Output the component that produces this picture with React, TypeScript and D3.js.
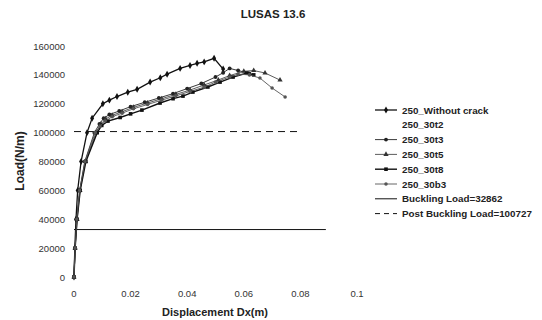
import { useEffect, useRef } from "react";
import * as d3 from "d3";

type Pt = [number, number];

// Load–displacement curves
const withoutCrack: Pt[] = [
  [0, 0], [0.0003, 20000], [0.0007, 40000], [0.0013, 60000], [0.0025, 80000],
  [0.0046, 100000], [0.0064, 110000], [0.0102, 120000], [0.0125, 122500],
  [0.0152, 125000], [0.019, 128000], [0.0223, 130000], [0.0269, 135000],
  [0.0305, 138000], [0.0329, 140500], [0.0375, 144500], [0.041, 146500],
  [0.0435, 148000], [0.046, 149000], [0.0495, 151500], [0.0527, 144000],
];
const t3: Pt[] = [
  [0, 0], [0.0004, 20000], [0.001, 40000], [0.002, 60000], [0.0038, 80000],
  [0.0072, 100000], [0.009, 106000], [0.0105, 110000], [0.0125, 112500],
  [0.016, 115000], [0.02, 118000], [0.025, 121000], [0.03, 124000],
  [0.035, 127000], [0.04, 130500], [0.045, 134000], [0.05, 138500],
  [0.0527, 141500], [0.055, 144500], [0.058, 143000], [0.062, 141000],
];
const t5: Pt[] = [
  [0, 0], [0.0004, 20000], [0.0011, 40000], [0.0021, 60000], [0.004, 80000],
  [0.0078, 100000], [0.0095, 106000], [0.0112, 109500], [0.0135, 112000],
  [0.017, 114500], [0.021, 117500], [0.026, 120500], [0.031, 123500],
  [0.036, 126500], [0.041, 129500], [0.046, 133000], [0.051, 136500],
  [0.055, 139500], [0.06, 142500], [0.0635, 143000], [0.0675, 141300],
  [0.0728, 136400],
];
const t8: Pt[] = [
  [0, 0], [0.0004, 20000], [0.0011, 40000], [0.0022, 60000], [0.0042, 80000],
  [0.0082, 100000], [0.0098, 105000], [0.012, 108000], [0.0163, 110500],
  [0.02, 113000], [0.024, 115600], [0.0304, 120500], [0.035, 123500],
  [0.0385, 125300], [0.042, 128100], [0.0473, 131600], [0.0516, 135000],
  [0.0562, 138500], [0.0611, 141300], [0.0635, 140000],
];
const b3: Pt[] = [
  [0, 0], [0.0004, 20000], [0.001, 40000], [0.002, 60000], [0.0039, 80000],
  [0.0075, 100000], [0.0092, 104500], [0.011, 108000], [0.0135, 111000],
  [0.017, 113500], [0.021, 116500], [0.026, 119500], [0.031, 122500],
  [0.036, 125500], [0.041, 128500], [0.046, 131500], [0.05, 135000],
  [0.055, 138500], [0.058, 140500], [0.062, 140000], [0.0657, 137800],
  [0.07, 130900], [0.0746, 124700],
];

const bucklingLoad = 32862;
const postBucklingLoad = 100727;
const bucklingSpan = [0, 0.089];
const postBucklingSpan = [0, 0.08];

const xTicks = [0, 0.02, 0.04, 0.06, 0.08, 0.1];
const xTickLabels = ["0", "0.02", "0.04", "0.06", "0.08", "0.1"];
const yTicks = [0, 20000, 40000, 60000, 80000, 100000, 120000, 140000, 160000];

const legendLabels = [
  "250_Without crack",
  "250_30t2",
  "250_30t3",
  "250_30t5",
  "250_30t8",
  "250_30b3",
  "Buckling Load=32862",
  "Post Buckling Load=100727",
];

interface Series {
  data: Pt[] | null;
  color: string;
  width: number;
  marker: "diamond" | "circle" | "triangle" | "square" | "none";
  size: number;
  dash?: string;
}

const series: Series[] = [
  { data: withoutCrack, color: "#111", width: 1.3, marker: "diamond", size: 14 },
  { data: null, color: "none", width: 0, marker: "none", size: 0 },
  { data: t3, color: "#222", width: 0.9, marker: "circle", size: 12 },
  { data: t5, color: "#333", width: 0.8, marker: "triangle", size: 12 },
  { data: t8, color: "#111", width: 1.4, marker: "square", size: 13 },
  { data: b3, color: "#555", width: 0.9, marker: "circle", size: 10 },
];

const symbolFor = (m: Series["marker"]) =>
  m === "diamond" ? d3.symbolDiamond
    : m === "triangle" ? d3.symbolTriangle
    : m === "square" ? d3.symbolSquare
    : d3.symbolCircle;

export default function App() {
  const svgRef = useRef<SVGSVGElement>(null);

  useEffect(() => {
    if (!svgRef.current) return;
    const svg = d3.select(svgRef.current);
    svg.selectAll("*").remove();

    const font = "Arial, 'Liberation Sans', sans-serif";

    const x = d3.scaleLinear().domain([0, 0.1]).range([74, 357]);
    const y = d3.scaleLinear().domain([0, 160000]).range([277, 46]);

    // Title
    svg.append("text")
      .attr("x", 273).attr("y", 18)
      .attr("text-anchor", "middle")
      .attr("font-family", font).attr("font-weight", "bold").attr("font-size", 11.5)
      .attr("fill", "#222")
      .text("LUSAS 13.6");

    // Y tick labels
    svg.append("g").selectAll("text")
      .data(yTicks)
      .join("text")
      .attr("x", 65)
      .attr("y", (d) => y(d) + 3.5)
      .attr("text-anchor", "end")
      .attr("font-family", font).attr("font-size", 9.5)
      .attr("fill", "#333")
      .text((d) => String(d));

    // X tick labels
    svg.append("g").selectAll("text")
      .data(xTicks)
      .join("text")
      .attr("x", (d) => x(d))
      .attr("y", 297)
      .attr("text-anchor", "middle")
      .attr("font-family", font).attr("font-size", 9.5)
      .attr("fill", "#333")
      .text((d, i) => xTickLabels[i]);

    // Axis titles
    svg.append("text")
      .attr("x", 215).attr("y", 316)
      .attr("text-anchor", "middle")
      .attr("font-family", font).attr("font-weight", "bold").attr("font-size", 11)
      .attr("fill", "#222")
      .text("Displacement Dx(m)");

    svg.append("text")
      .attr("transform", "translate(24,161) rotate(-90)")
      .attr("text-anchor", "middle")
      .attr("font-family", font).attr("font-weight", "bold").attr("font-size", 12)
      .attr("fill", "#222")
      .text("Load(N/m)");

    // Reference lines
    svg.append("line")
      .attr("x1", x(bucklingSpan[0])).attr("x2", x(bucklingSpan[1]))
      .attr("y1", y(bucklingLoad)).attr("y2", y(bucklingLoad))
      .attr("stroke", "#111").attr("stroke-width", 1);

    svg.append("line")
      .attr("x1", x(postBucklingSpan[0])).attr("x2", x(postBucklingSpan[1]))
      .attr("y1", y(postBucklingLoad)).attr("y2", y(postBucklingLoad))
      .attr("stroke", "#111").attr("stroke-width", 1)
      .attr("stroke-dasharray", "7,5");

    const line = d3.line<Pt>().x((d) => x(d[0])).y((d) => y(d[1]));

    series.forEach((s) => {
      if (!s.data) return;
      svg.append("path")
        .datum(s.data)
        .attr("fill", "none")
        .attr("stroke", s.color)
        .attr("stroke-width", s.width)
        .attr("d", line);

      const sym = d3.symbol().type(symbolFor(s.marker)).size(s.size);
      svg.append("g").selectAll("path")
        .data(s.data)
        .join("path")
        .attr("transform", (d) => `translate(${x(d[0])},${y(d[1])})`)
        .attr("d", sym)
        .attr("fill", s.color);
    });

    // Legend
    const lg = svg.append("g");
    legendLabels.forEach((label, i) => {
      const yy = 110 + i * 14.8;
      if (i < series.length) {
        const s = series[i];
        if (s.data) {
          lg.append("line")
            .attr("x1", 375).attr("x2", 397)
            .attr("y1", yy).attr("y2", yy)
            .attr("stroke", s.color).attr("stroke-width", s.width);
          lg.append("path")
            .attr("transform", `translate(386,${yy})`)
            .attr("d", d3.symbol().type(symbolFor(s.marker)).size(s.size)())
            .attr("fill", s.color);
        }
      } else {
        lg.append("line")
          .attr("x1", 375).attr("x2", 397)
          .attr("y1", yy).attr("y2", yy)
          .attr("stroke", "#111").attr("stroke-width", 1)
          .attr("stroke-dasharray", i === 7 ? "5,4" : null);
      }
      lg.append("text")
        .attr("x", 402).attr("y", yy + 3.5)
        .attr("font-family", font).attr("font-weight", "bold").attr("font-size", 9.8)
        .attr("fill", "#222")
        .text(label);
    });
  }, []);

  return (
    <div style={{ position: "absolute", left: 0, top: 0 }}>
      <svg ref={svgRef} width={542} height={320} style={{ display: "block", background: "#fff" }} />
    </div>
  );
}
